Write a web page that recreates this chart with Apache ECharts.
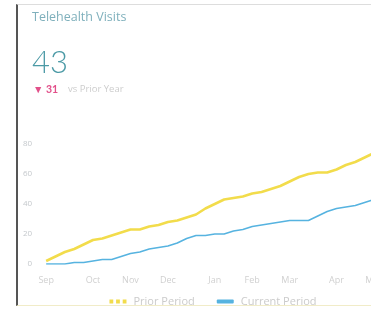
<!DOCTYPE html>
<html>
<head>
<meta charset="utf-8">
<script src="https://cdn.jsdelivr.net/npm/echarts@6/dist/echarts.min.js"></script>
<style>
  html, body { margin: 0; padding: 0; background: #fff; overflow: hidden; }
  body { width: 371px; height: 309px; position: relative; }
  #card {
    position: absolute; left: 16px; top: 4px; width: 400px; height: 300px;
    border-left: 2px solid #555; border-top: 1px solid #ddd; border-bottom: 1px solid #f1ecc8;
  }
  #chart { position: absolute; left: 2px; top: 1px; width: 386px; height: 300px; }
</style>
</head>
<body>
<div id="card"><div id="chart"></div></div>
<script>
// weekly cumulative telehealth visits
const weeks = [
  'Sep 1', 'Sep 8', 'Sep 15', 'Sep 22', 'Sep 29',
  'Oct 6', 'Oct 13', 'Oct 20', 'Oct 27',
  'Nov 3', 'Nov 10', 'Nov 17', 'Nov 24',
  'Dec 1', 'Dec 8', 'Dec 15', 'Dec 22', 'Dec 29',
  'Jan 5', 'Jan 12', 'Jan 19', 'Jan 26',
  'Feb 2', 'Feb 9', 'Feb 16', 'Feb 23',
  'Mar 1', 'Mar 8', 'Mar 15', 'Mar 22', 'Mar 29',
  'Apr 5', 'Apr 12', 'Apr 19', 'Apr 26',
  'May 3'
];
const priorPeriod = [
  2, 5, 8, 10, 13, 16, 17, 19, 21, 23, 23, 25,
  26, 28, 29, 31, 33, 37, 40, 43, 44, 45, 47, 48,
  50, 52, 55, 58, 60, 61, 61, 63, 66, 68, 71, 74
];
const currentPeriod = [
  0, 0, 0, 1, 1, 2, 3, 3, 5, 7, 8, 10,
  11, 12, 14, 17, 19, 19, 20, 20, 22, 23, 25, 26,
  27, 28, 29, 29, 29, 32, 35, 37, 38, 39, 41, 43
];
const yTicks = [0, 20, 40, 60, 80];
const seriesNames = ['Prior Period', 'Current Period'];
const totalVisits = 43;
const changeVsPrior = 31;

const chart = echarts.init(document.getElementById('chart'));

const option = {
  animation: false,
  title: {
    text: 'Telehealth Visits',
    left: 12,
    top: 5,
    padding: 0,
    textStyle: { fontFamily: 'Open Sans', fontSize: 12.5, fontWeight: 'normal', color: '#7fb0bc' }
  },
  graphic: [
    {
      type: 'text', left: 12, top: 41,
      style: { text: String(totalVisits), font: '300 31px Lato', fill: '#4c9aa6' }
    },
    {
      type: 'text', left: 13, top: 78,
      style: {
        text: '{a|▼ ' + changeVsPrior + '}{b|    vs Prior Year}',
        rich: {
          a: { fontFamily: 'Lato', fontSize: 10.5, fontWeight: 'bold', fill: '#e2508a', color: '#e2508a' },
          b: { fontFamily: 'Open Sans', fontSize: 9.5, fill: '#cdcdcd', color: '#cdcdcd' }
        }
      }
    }
  ],
  legend: {
    left: 'center',
    top: 285,
    itemWidth: 17,
    itemHeight: 4,
    itemGap: 22,
    textStyle: { fontFamily: 'Open Sans', fontSize: 11, color: '#cbcbcb', padding: [0, 0, 0, 2] },
    data: [
      { name: seriesNames[0], icon: 'path://M0,0h4v4h-4z M7,0h4v4h-4z M14,0h4v4h-4z' },
      { name: seriesNames[1], icon: 'roundRect' }
    ]
  },
  grid: { left: 25, right: 32, top: 138, bottom: 42 },
  xAxis: {
    type: 'category',
    data: weeks,
    boundaryGap: false,
    axisLine: { show: false },
    axisTick: { show: false },
    splitLine: { show: false },
    axisLabel: {
      margin: 12,
      fontFamily: 'Open Sans',
      fontSize: 9,
      color: '#d0d0d0',
      interval: function (idx) {
        return idx === 0 || weeks[idx].split(' ')[0] !== weeks[idx - 1].split(' ')[0];
      },
      formatter: function (v) { return v.split(' ')[0]; }
    }
  },
  yAxis: {
    type: 'value',
    min: yTicks[0],
    max: yTicks[yTicks.length - 1],
    interval: yTicks[1] - yTicks[0],
    axisLine: { show: false },
    axisTick: { show: false },
    splitLine: { show: false },
    axisLabel: { margin: 14, fontFamily: 'Open Sans', fontSize: 8, color: '#c4c8cc' }
  },
  series: [
    {
      name: seriesNames[0],
      type: 'line',
      data: priorPeriod,
      symbol: 'none',
      lineStyle: { width: 2.5, color: '#f2dc4b' },
      itemStyle: { color: '#f2dc4b' }
    },
    {
      name: seriesNames[1],
      type: 'line',
      data: currentPeriod,
      symbol: 'none',
      lineStyle: { width: 1.6, color: '#56b3e0' },
      itemStyle: { color: '#56b3e0' }
    }
  ]
};

chart.setOption(option);
</script>
</body>
</html>
